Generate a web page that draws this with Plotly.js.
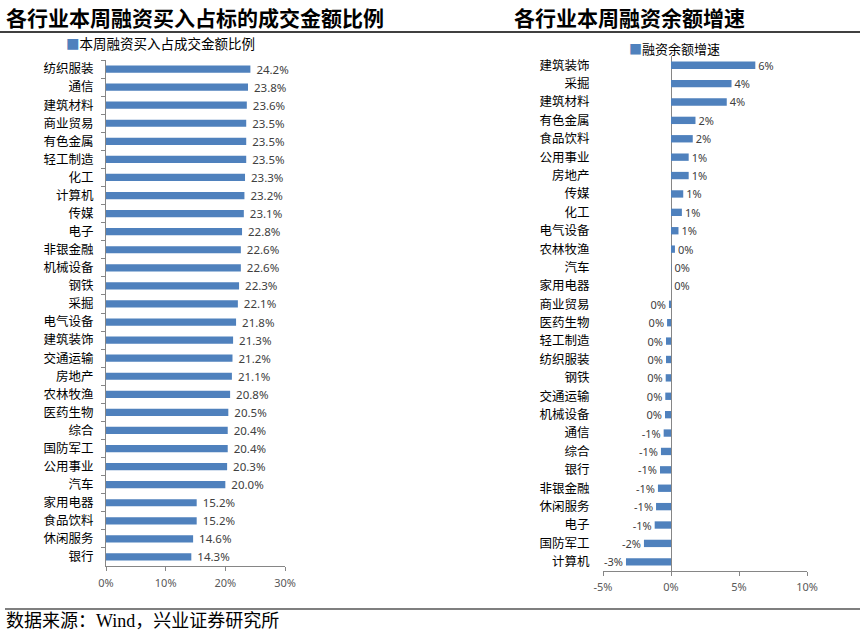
<!DOCTYPE html>
<html><head><meta charset="utf-8">
<script src="https://cdn.plot.ly/plotly-3.0.1.min.js"></script>
<style>body{margin:0;background:#fff}#chart{width:860px;height:633px}</style>
</head><body><div id="chart"></div><script>
const leftCategories = ['纺织服装','通信','建筑材料','商业贸易','有色金属','轻工制造','化工','计算机','传媒','电子','非银金融','机械设备','钢铁','采掘','电气设备','建筑装饰','交通运输','房地产','农林牧渔','医药生物','综合','国防军工','公用事业','汽车','家用电器','食品饮料','休闲服务','银行'];
const leftValues = [24.2,23.8,23.6,23.5,23.5,23.5,23.3,23.2,23.1,22.8,22.6,22.6,22.3,22.1,21.8,21.3,21.2,21.1,20.8,20.5,20.4,20.4,20.3,20.0,15.2,15.2,14.6,14.3];
const rightCategories = ['建筑装饰','采掘','建筑材料','有色金属','食品饮料','公用事业','房地产','传媒','化工','电气设备','农林牧渔','汽车','家用电器','商业贸易','医药生物','轻工制造','纺织服装','钢铁','交通运输','机械设备','通信','综合','银行','非银金融','休闲服务','电子','国防军工','计算机'];
const rightValues = [6.2,4.45,4.1,1.8,1.6,1.3,1.3,0.9,0.8,0.55,0.29,0.03,0.01,-0.15,-0.29,-0.37,-0.37,-0.39,-0.42,-0.44,-0.54,-0.74,-0.81,-0.96,-1.10,-1.20,-1.99,-3.31];
const leftTickVals = [0,10,20,30];
const leftTickText = ['0%','10%','20%','30%'];
const rightTickVals = [-5,0,5,10];
const rightTickText = ['-5%','0%','5%','10%'];
const leftTitle = '各行业本周融资买入占标的成交金额比例';
const rightTitle = '各行业本周融资余额增速';
const leftSeriesName = '本周融资买入占成交金额比例';
const rightSeriesName = '融资余额增速';
const sourceText = '数据来源：Wind，兴业证券研究所';

const W = 860, H = 633;
const px = v => v / W, py = v => 1 - v / H;
const BLUE = '#4F81BD', AXIS = '#868686', LBL = '#404040';
const CJK = '"Noto Sans CJK SC", "Noto Sans", sans-serif';

const leftText = leftValues.map(v => '\u00a0' + v.toFixed(1) + '%');
const rightText = rightValues.map(v => { const r = Math.round(v); return (r === 0 ? '0' : String(r)) + '%'; });

const traces = [
  {type:'bar', orientation:'h', name:leftSeriesName, x:leftValues, y:leftCategories, xaxis:'x', yaxis:'y',
   marker:{color:BLUE}, text:leftText, textposition:'outside', cliponaxis:false, constraintext:'none',
   textfont:{size:11.5, color:LBL, family:'"Noto Sans", sans-serif'}, showlegend:false},
  {type:'bar', orientation:'h', name:rightSeriesName, x:rightValues, y:rightCategories, xaxis:'x2', yaxis:'y2',
   marker:{color:BLUE}, text:rightText, textposition:'outside', cliponaxis:false, constraintext:'none',
   textfont:{size:11, color:LBL, family:'"Noto Sans", sans-serif'}, showlegend:false}
];

const layout = {
  width:W, height:H, margin:{l:0,r:0,t:0,b:0}, paper_bgcolor:'#fff', plot_bgcolor:'rgba(0,0,0,0)',
  bargap:0.6, showlegend:false, font:{family:CJK},
  xaxis:{domain:[px(106),px(285)], range:[0,30], anchor:'y', showgrid:false, zeroline:false,
    showline:true, linecolor:AXIS, ticks:'outside', ticklen:4, tickcolor:AXIS, ticklabelstandoff:3,
    tickvals:leftTickVals, ticktext:leftTickText, tickfont:{size:11, color:'#595959', family:'"Noto Sans", sans-serif'}, fixedrange:true},
  yaxis:{domain:[py(566),py(60)], type:'category', autorange:'reversed', anchor:'x',
    showline:true, linecolor:AXIS, ticks:'outside', tickson:'boundaries', ticklen:4, tickcolor:AXIS,
    ticklabelstandoff:9, tickfont:{size:12.5, color:'#000', family:CJK}, showgrid:false, fixedrange:true},
  xaxis2:{domain:[px(603),px(807)], range:[-5,10], anchor:'y2', showgrid:false, zeroline:true, zerolinecolor:AXIS, zerolinewidth:1,
    showline:true, linecolor:AXIS, ticks:'outside', ticklen:4, tickcolor:AXIS, ticklabelstandoff:2,
    tickvals:rightTickVals, ticktext:rightTickText, tickfont:{size:11, color:'#595959', family:'"Noto Sans", sans-serif'}, fixedrange:true},
  yaxis2:{domain:[py(571),py(56)], type:'category', autorange:'reversed', anchor:'x2',
    showline:false, ticks:'outside', ticklen:10, tickcolor:'rgba(0,0,0,0)',
    tickfont:{size:12.5, color:'#000', family:CJK}, showgrid:false, fixedrange:true},
  shapes:[
    {type:'line', xref:'paper', yref:'paper', x0:0, x1:1, y0:py(32), y1:py(32), line:{color:'#000', width:1.5}},
    {type:'line', xref:'paper', yref:'paper', x0:px(5), x1:1, y0:py(609), y1:py(609), line:{color:'#000', width:1.2}}
  ],
  annotations:[
    {xref:'paper', yref:'paper', x:px(4), y:py(17), xanchor:'left', yanchor:'middle', showarrow:false,
     text:'<b>'+leftTitle+'</b>', font:{size:21, color:'#000', family:CJK}},
    {xref:'paper', yref:'paper', x:px(512), y:py(17), xanchor:'left', yanchor:'middle', showarrow:false,
     text:'<b>'+rightTitle+'</b>', font:{size:21, color:'#000', family:CJK}},
    {xref:'paper', yref:'paper', x:px(64), y:py(43), xanchor:'left', yanchor:'middle', showarrow:false,
     text:'<span style="color:'+BLUE+'">■</span>'+leftSeriesName, font:{size:13.5, color:'#000', family:CJK}},
    {xref:'paper', yref:'paper', x:px(627), y:py(49), xanchor:'left', yanchor:'middle', showarrow:false,
     text:'<span style="color:'+BLUE+'">■</span>'+rightSeriesName, font:{size:13, color:'#000', family:CJK}},
    {xref:'paper', yref:'paper', x:px(4), y:py(621), xanchor:'left', yanchor:'middle', showarrow:false,
     text:sourceText, font:{size:18, color:'#000', family:'"Liberation Serif", "Noto Sans CJK SC", serif'}}
  ]
};
Plotly.newPlot('chart', traces, layout, {displayModeBar:false, staticPlot:true});
</script></body></html>
